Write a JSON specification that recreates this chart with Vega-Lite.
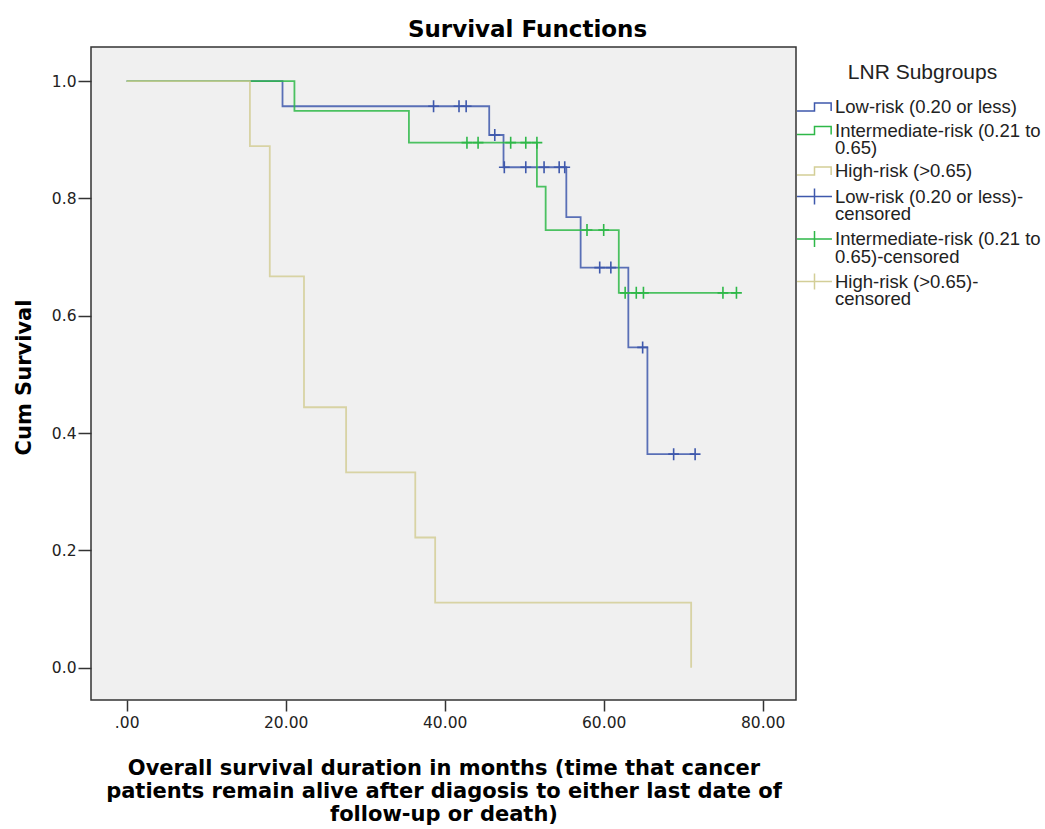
{
  "$schema": "https://vega.github.io/schema/vega-lite/v6.json",
  "width": 705,
  "height": 653,
  "autosize": {"type": "none"},
  "padding": {"left": 91, "top": 47, "right": 249, "bottom": 129},
  "background": "white",
  "title": {
    "text": "Survival Functions",
    "anchor": "middle",
    "frame": "group",
    "dx": 84,
    "dy": 25,
    "offset": 12,
    "baseline": "alphabetic",
    "font": "DejaVu Sans",
    "fontSize": 23,
    "fontWeight": "bold",
    "color": "#000000"
  },
  "config": {
    "view": {"fill": "#f0f0f0", "stroke": "#333333", "strokeWidth": 1.5},
    "axis": {
      "grid": false,
      "domain": false,
      "tickColor": "#333333",
      "tickWidth": 1.5,
      "labelFont": "DejaVu Sans",
      "labelFontSize": 15.5,
      "labelColor": "#222222",
      "titleFont": "DejaVu Sans",
      "titleFontWeight": "bold",
      "titleColor": "#000000"
    }
  },
  "datasets": {
    "curves": [
      {"series": "Low-risk (0.20 or less)", "t": 0, "s": 1},
      {"series": "Low-risk (0.20 or less)", "t": 19.6, "s": 0.957},
      {"series": "Low-risk (0.20 or less)", "t": 45.6, "s": 0.908},
      {"series": "Low-risk (0.20 or less)", "t": 47.4, "s": 0.853},
      {"series": "Low-risk (0.20 or less)", "t": 55.3, "s": 0.768},
      {"series": "Low-risk (0.20 or less)", "t": 57.1, "s": 0.682},
      {"series": "Low-risk (0.20 or less)", "t": 63.1, "s": 0.546},
      {"series": "Low-risk (0.20 or less)", "t": 65.5, "s": 0.364},
      {"series": "Low-risk (0.20 or less)", "t": 71.5, "s": 0.364},
      {"series": "Intermediate-risk (0.21 to 0.65)", "t": 0, "s": 1},
      {"series": "Intermediate-risk (0.21 to 0.65)", "t": 21.1, "s": 0.949},
      {"series": "Intermediate-risk (0.21 to 0.65)", "t": 35.5, "s": 0.895},
      {"series": "Intermediate-risk (0.21 to 0.65)", "t": 51.6, "s": 0.82},
      {"series": "Intermediate-risk (0.21 to 0.65)", "t": 52.7, "s": 0.746},
      {"series": "Intermediate-risk (0.21 to 0.65)", "t": 61.9, "s": 0.639},
      {"series": "Intermediate-risk (0.21 to 0.65)", "t": 76.7, "s": 0.639},
      {"series": "High-risk (>0.65)", "t": 0, "s": 1},
      {"series": "High-risk (>0.65)", "t": 15.5, "s": 0.889},
      {"series": "High-risk (>0.65)", "t": 18.0, "s": 0.667},
      {"series": "High-risk (>0.65)", "t": 22.3, "s": 0.444},
      {"series": "High-risk (>0.65)", "t": 27.6, "s": 0.333},
      {"series": "High-risk (>0.65)", "t": 36.3, "s": 0.222},
      {"series": "High-risk (>0.65)", "t": 38.8, "s": 0.111},
      {"series": "High-risk (>0.65)", "t": 71.0, "s": 0.0}
    ],
    "censored": [
      {"series": "Low-risk (0.20 or less)-censored", "t": 38.6, "s": 0.957},
      {"series": "Low-risk (0.20 or less)-censored", "t": 41.8, "s": 0.957},
      {"series": "Low-risk (0.20 or less)-censored", "t": 42.7, "s": 0.957},
      {"series": "Low-risk (0.20 or less)-censored", "t": 46.3, "s": 0.908},
      {"series": "Low-risk (0.20 or less)-censored", "t": 47.5, "s": 0.853},
      {"series": "Low-risk (0.20 or less)-censored", "t": 50.2, "s": 0.853},
      {"series": "Low-risk (0.20 or less)-censored", "t": 52.5, "s": 0.853},
      {"series": "Low-risk (0.20 or less)-censored", "t": 54.4, "s": 0.853},
      {"series": "Low-risk (0.20 or less)-censored", "t": 55.1, "s": 0.853},
      {"series": "Low-risk (0.20 or less)-censored", "t": 59.5, "s": 0.682},
      {"series": "Low-risk (0.20 or less)-censored", "t": 60.9, "s": 0.682},
      {"series": "Low-risk (0.20 or less)-censored", "t": 64.9, "s": 0.546},
      {"series": "Low-risk (0.20 or less)-censored", "t": 68.8, "s": 0.364},
      {"series": "Low-risk (0.20 or less)-censored", "t": 71.5, "s": 0.364},
      {"series": "Intermediate-risk (0.21 to 0.65)-censored", "t": 42.8, "s": 0.895},
      {"series": "Intermediate-risk (0.21 to 0.65)-censored", "t": 44.2, "s": 0.895},
      {"series": "Intermediate-risk (0.21 to 0.65)-censored", "t": 48.3, "s": 0.895},
      {"series": "Intermediate-risk (0.21 to 0.65)-censored", "t": 50.2, "s": 0.895},
      {"series": "Intermediate-risk (0.21 to 0.65)-censored", "t": 51.6, "s": 0.895},
      {"series": "Intermediate-risk (0.21 to 0.65)-censored", "t": 57.9, "s": 0.746},
      {"series": "Intermediate-risk (0.21 to 0.65)-censored", "t": 60.0, "s": 0.746},
      {"series": "Intermediate-risk (0.21 to 0.65)-censored", "t": 62.7, "s": 0.639},
      {"series": "Intermediate-risk (0.21 to 0.65)-censored", "t": 64.1, "s": 0.639},
      {"series": "Intermediate-risk (0.21 to 0.65)-censored", "t": 65.0, "s": 0.639},
      {"series": "Intermediate-risk (0.21 to 0.65)-censored", "t": 75.0, "s": 0.639},
      {"series": "Intermediate-risk (0.21 to 0.65)-censored", "t": 76.7, "s": 0.639}
    ]
  },
  "layer": [
    {
      "data": {"name": "curves"},
      "mark": {"type": "line", "interpolate": "step-after", "strokeWidth": 1.8, "strokeOpacity": 0.85},
      "encoding": {
        "x": {
          "field": "t",
          "type": "quantitative",
          "scale": {"domain": [-4.49, 84.19], "nice": false, "zero": false},
          "axis": {
            "values": [0, 20, 40, 60, 80],
            "labelExpr": "datum.value == 0 ? '.00' : format(datum.value, '.2f')",
            "tickSize": 11,
            "labelPadding": 4,
            "title": ["Overall survival duration in months (time that cancer", "patients remain alive after diagosis to either last date of", "follow-up or death)"],
            "titleFontSize": 21,
            "titleLineHeight": 23,
            "titleX": 352.5,
            "titleY": 74,
            "titleAlign": "center",
            "titleBaseline": "alphabetic"
          }
        },
        "y": {
          "field": "s",
          "type": "quantitative",
          "scale": {"domain": [-0.055, 1.058], "nice": false, "zero": false},
          "axis": {
            "values": [0, 0.2, 0.4, 0.6, 0.8, 1.0],
            "format": ".1f",
            "tickSize": 13,
            "labelPadding": 2,
            "title": "Cum Survival",
            "titleFontSize": 21,
            "titleX": -67,
            "titleY": 330,
            "titleAngle": -90,
            "titleAlign": "center",
            "titleBaseline": "middle"
          }
        },
        "color": {
          "field": "series",
          "type": "nominal",
          "scale": {
            "domain": ["Low-risk (0.20 or less)", "Intermediate-risk (0.21 to 0.65)", "High-risk (>0.65)", "Low-risk (0.20 or less)-censored", "Intermediate-risk (0.21 to 0.65)-censored", "High-risk (>0.65)-censored"],
            "range": ["#3E58AC", "#2EB848", "#D3CE97", "#3E58AC", "#2EB848", "#D3CE97"]
          },
          "legend": {
            "orient": "none",
            "legendX": 713.5,
            "legendY": 15,
            "title": "LNR Subgroups",
            "titleFont": "Liberation Sans",
            "titleFontSize": 21,
            "titleFontWeight": "normal",
            "titleColor": "#222222",
            "titleAnchor": "middle",
            "titlePadding": 14,
            "labelFont": "Liberation Sans",
            "labelFontSize": 18.5,
            "labelColor": "#222222",
            "labelLimit": 300,
            "labelOffset": 10.5,
            "symbolSize": 324,
            "symbolStrokeWidth": 1.5,
            "rowPadding": 3.5,
            "padding": 0,
            "labelExpr": "datum.label == 'Intermediate-risk (0.21 to 0.65)' ? ['Intermediate-risk (0.21 to', '0.65)'] : datum.label == 'Low-risk (0.20 or less)-censored' ? ['Low-risk (0.20 or less)-', 'censored'] : datum.label == 'Intermediate-risk (0.21 to 0.65)-censored' ? ['Intermediate-risk (0.21 to', '0.65)-censored'] : datum.label == 'High-risk (>0.65)-censored' ? ['High-risk (>0.65)-', 'censored'] : datum.label",
            "encode": {
              "symbols": {
                "update": {
                  "shape": {"signal": "indexof(datum.value, 'censored') >= 0 ? 'M-1.94,0H1.94M0,-0.9V0.9' : 'M-1.94,0.45H0V-0.45H1.85V0.45'"},
                  "fill": {"value": "transparent"},
                  "stroke": {"scale": "color", "field": "value"},
                  "strokeWidth": {"value": 1.5},
                  "opacity": {"value": 1}
                }
              },
              "labels": {
                "update": {
                  "lineHeight": {"value": 17.5}
                }
              }
            }
          }
        }
      }
    },
    {
      "data": {"name": "censored"},
      "mark": {"type": "point", "shape": "M-0.9,0H0.9M0,-1V1", "size": 144, "filled": false, "strokeWidth": 1.6, "opacity": 1},
      "encoding": {
        "x": {"field": "t", "type": "quantitative"},
        "y": {"field": "s", "type": "quantitative"},
        "color": {"field": "series", "type": "nominal"}
      }
    }
  ]
}
